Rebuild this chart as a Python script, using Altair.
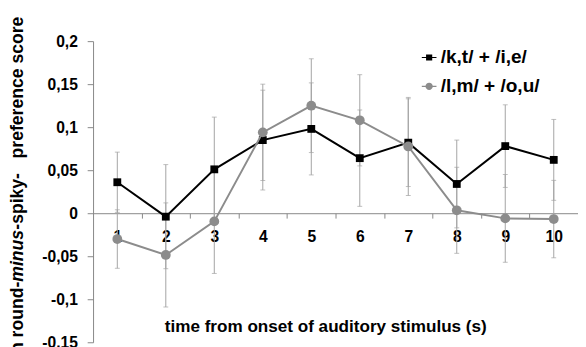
import altair as alt
import pandas as pd

# ---- data ----
times = [1, 2, 3, 4, 5, 6, 7, 8, 9, 10]
kt_ie = [0.036, -0.004, 0.051, 0.085, 0.098, 0.064, 0.082, 0.034, 0.078, 0.062]
kt_ie_err = [0.035, 0.0605, 0.0607, 0.058, 0.0535, 0.056, 0.051, 0.051, 0.048, 0.047]
lm_ou = [-0.030, -0.0485, -0.0095, 0.094, 0.125, 0.108, 0.0776, 0.0034, -0.006, -0.0068]
lm_ou_err = [0.034, 0.0605, 0.0605, 0.056, 0.0545, 0.053, 0.057, 0.050, 0.051, 0.045]
series_names = ["/k,t/ + /i,e/", "/l,m/ + /o,u/"]
series_colors = ["#000000", "#8c8c8c"]
y_ticks = [-0.15, -0.1, -0.05, 0, 0.05, 0.1, 0.15, 0.2]
y_title_parts = ["mean round-", "minus", "-spiky-\u00a0 \u00a0preference score"]
x_title = "time from onset of auditory stimulus (s)"

FONT = "Liberation Sans"
Y_DOMAIN = [-0.15, 0.2]

rows = []
for name, vals, errs in [(series_names[0], kt_ie, kt_ie_err), (series_names[1], lm_ou, lm_ou_err)]:
    for t, v, e in zip(times, vals, errs):
        rows.append({"t": t, "v": v, "err": e, "series": name})
df = pd.DataFrame(rows)

base = alt.Chart(df).transform_calculate(
    lo="datum.v - datum.err", hi="datum.v + datum.err"
)

x_axis = alt.Axis(
    values=times, tickOffset=24.8, labelOffset=-24.8, offset=-132, grid=False,
    domainColor="#868686", domainWidth=1, tickColor="#868686", tickSize=5, tickWidth=1,
    labelFont=FONT, labelFontSize=16, labelFontWeight="bold", labelColor="black",
    labelPadding=11, labelFlush=False, labelOverlap=False,
    title=x_title, titleFont=FONT, titleFontSize=17.5, titleFontWeight="bold",
    titleColor="black", titleX=237.5, titleY=116, titleAlign="center",
    titleBaseline="middle",
)
y_axis = alt.Axis(
    values=y_ticks, labelExpr="replace(toString(datum.value), '.', ',')", grid=False,
    domainColor="#868686", domainWidth=1, tickColor="#868686", tickSize=6, tickWidth=1,
    labelFont=FONT, labelFontSize=16, labelFontWeight="bold", labelColor="black",
    labelPadding=10, labelFlush=False, labelOverlap=False, title=None,
)

def yscale():
    return alt.Scale(domain=Y_DOMAIN, nice=False, zero=False)

X = alt.X("t:Q", scale=alt.Scale(domain=[0.5, 10.5], nice=False, zero=False), axis=x_axis)
Y = alt.Y("v:Q", scale=yscale(), axis=y_axis)
Ylo = alt.Y("lo:Q", scale=yscale(), axis=y_axis)
Yhi = alt.Y("hi:Q", scale=yscale(), axis=y_axis)

err_rules = base.mark_rule(color="#a3a3a3", strokeWidth=1).encode(x=X, y=Ylo, y2="hi:Q")
cap_lo = base.mark_tick(orient="horizontal", size=5, thickness=1, color="#a3a3a3").encode(x=X, y=Ylo)
cap_hi = base.mark_tick(orient="horizontal", size=5, thickness=1, color="#a3a3a3").encode(x=X, y=Yhi)

k_data = base.transform_filter(alt.datum.series == series_names[0])
l_data = base.transform_filter(alt.datum.series == series_names[1])

k_line = k_data.mark_line(color=series_colors[0], strokeWidth=2).encode(x=X, y=Y)
k_pts = k_data.mark_point(shape="square", filled=True, size=64, color=series_colors[0], opacity=1).encode(x=X, y=Y)
l_line = l_data.mark_line(color=series_colors[1], strokeWidth=2).encode(x=X, y=Y)
l_pts = l_data.mark_point(shape="circle", filled=True, size=100, color=series_colors[1], opacity=1).encode(x=X, y=Y)

# legend carrier (invisible marks, visible legend)
path_sq = "M-1,-0.08H1V0.08H-1Z M-0.42,-0.42H0.42V0.42H-0.42Z"
path_ci = "M-1,-0.08H1V0.08H-1Z M-0.5,0A0.5,0.5 0 1,1 0.5,0A0.5,0.5 0 1,1 -0.5,0Z"
leg = alt.Legend(
    title=None, orient="none", legendX=334, legendY=7, padding=0,
    labelFont=FONT, labelFontSize=19.5, labelFontWeight="bold", labelColor="black",
    symbolSize=225, rowPadding=8.5, labelOffset=2, symbolStrokeWidth=0, symbolOpacity=1,
)
carrier = base.mark_point(filled=True, opacity=0).encode(
    x=X, y=Y,
    color=alt.Color("series:N", scale=alt.Scale(domain=series_names, range=series_colors), legend=leg),
    shape=alt.Shape("series:N", scale=alt.Scale(domain=series_names, range=[path_sq, path_ci]), legend=leg),
)

# y-axis title with italic "minus"
one = alt.Data(values=[{"a": 1}])
fs_t = 18
w_c = 12.116 * fs_t
w_b = 2.945 * fs_t
ty = -25
def seg(text, y, italic=False):
    kw = dict(angle=270, align="right", baseline="alphabetic", font=FONT, fontSize=fs_t,
              fontWeight="bold", color="black")
    if italic:
        kw["fontStyle"] = "italic"
    return alt.Chart(one).mark_text(**kw).encode(
        x=alt.value(-72), y=alt.value(y), text=alt.value(text))

t_c = seg(y_title_parts[2], ty)
t_b = seg(y_title_parts[1], ty + w_c, italic=True)
t_a = seg(y_title_parts[0], ty + w_c + w_b)

chart = alt.layer(
    err_rules, cap_lo, cap_hi, carrier, k_line, k_pts, l_line, l_pts, t_c, t_b, t_a
).properties(
    width=496, height=308,
    padding={"left": 87, "top": 30, "right": 0, "bottom": 4},
    autosize=alt.AutoSizeParams(type="none"),
    background="white",
).configure_view(stroke=None)

chart.save("out.html", embed_options={"renderer": "svg", "actions": False})
